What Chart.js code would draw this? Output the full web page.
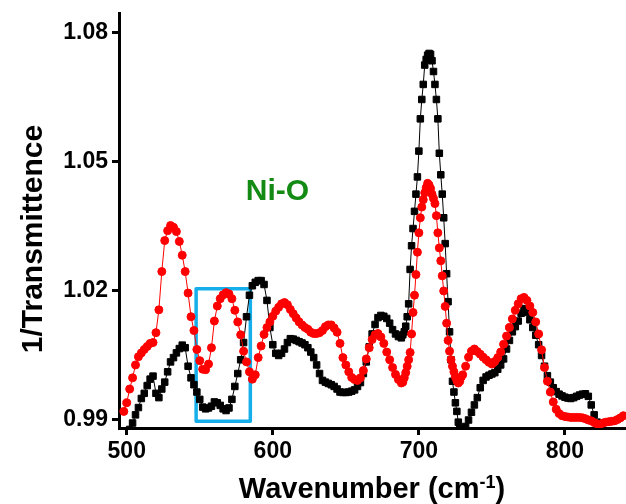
<!DOCTYPE html>
<html>
<head>
<meta charset="utf-8">
<style>
  html, body { margin: 0; padding: 0; background: #fff; }
  #wrap { width: 626px; height: 504px; }
</style>
<script src="https://cdn.jsdelivr.net/npm/chart.js@4.4.1/dist/chart.umd.min.js"></script>
</head>
<body>
<div id="wrap"><canvas id="ftir" width="626" height="504"></canvas></div>
<script>
// wavenumber grid (cm-1), finer sampling across the 700 band
const wavenumbers = [
  496, 498, 500, 502, 504, 506, 508, 510, 512, 514, 516, 518, 520, 522, 524, 526, 528, 530, 532, 534,
  536, 538, 540, 542, 544, 546, 548, 550, 552, 554, 556, 558, 560, 562, 564, 566, 568, 570, 572, 574,
  576, 578, 580, 582, 584, 586, 588, 590, 592, 594, 596, 598, 600, 602, 604, 606, 608, 610, 612, 614,
  616, 618, 620, 622, 624, 626, 628, 630, 632, 634, 636, 638, 640, 642, 644, 646, 648, 650, 652, 654,
  656, 658, 660, 662, 664, 666, 668, 670, 672, 674, 676, 678, 680, 682, 684, 686, 688,
  689, 690, 691, 692, 693, 694, 695, 696, 697, 698, 699, 700, 701, 702, 703, 704, 705, 706, 707, 708,
  709, 710, 711, 712, 713, 714, 715, 716, 717, 718, 719, 720, 721, 722, 723, 724, 725, 726, 727, 728, 729,
  730, 732, 734, 736, 738, 740, 742, 744, 746, 748, 750, 752, 754, 756, 758, 760, 762, 764, 766, 768,
  770, 772, 774, 776, 778, 780, 782, 784, 786, 788, 790, 792, 794, 796, 798, 800, 802, 804, 806, 808,
  810, 812, 814, 816, 818, 820, 822, 824, 826, 828, 830, 832, 834, 836, 838, 840
];

// black trace (squares)
const traceBlack = [
  null, null, null, 0.9878, 0.9893, 0.9912, 0.9929, 0.9950, 0.9962, 0.9980, 0.9995, 1.0002, 0.9962, 0.9952, 0.9972, 0.9988, 1.0012, 1.0035, 1.0045, 1.0056,
  1.0066, 1.0074, 1.0068, 1.0025, 0.9998, 0.9982, 0.9965, 0.9948, 0.9930, 0.9926, 0.9928, 0.9932, 0.9942, 0.9940, 0.9934, 0.9926, 0.9922, 0.9928, 0.9948, 0.9978,
  1.0008, 1.0040, 1.0080, 1.0140, 1.0190, 1.0212, 1.0220, 1.0224, 1.0224, 1.0215, 1.0178, 1.0115, 1.0075, 1.0055, 1.0050, 1.0055, 1.0065, 1.0080, 1.0089, 1.0088,
  1.0085, 1.0082, 1.0079, 1.0075, 1.0068, 1.0058, 1.0045, 1.0028, 1.0008, 0.9992, 0.9988, 0.9985, 0.9982, 0.9978, 0.9972, 0.9965, 0.9964, 0.9964, 0.9965, 0.9967,
  0.9970, 0.9978, 0.9987, 1.0008, 1.0035, 1.0070, 1.0100, 1.0122, 1.0138, 1.0143, 1.0141, 1.0136, 1.0125, 1.0110, 1.0100, 1.0094, 1.0091,
  1.0098, 1.0105, 1.0118, 1.0140, 1.0170, 1.0250, 1.0305, 1.0345, 1.0385, 1.0425, 1.0465, 1.0525, 1.0600, 1.0645, 1.0680, 1.0725, 1.0738, 1.0748, 1.0752, 1.0750,
  1.0735, 1.0710, 1.0680, 1.0645, 1.0600, 1.0520, 1.0470, 1.0425, 1.0370, 1.0310, 1.0240, 1.0175, 1.0105, 1.0040, 0.9990, 0.9965, 0.9940, 0.9920, 0.9895, 0.9880, 0.9870,
  0.9872, 0.9885, 0.9900, 0.9918, 0.9935, 0.9952, 0.9975, 0.9992, 1.0000, 1.0004, 1.0007, 1.0010, 1.0018, 1.0028, 1.0042, 1.0065, 1.0085, 1.0105, 1.0117, 1.0130,
  1.0148, 1.0159, 1.0150, 1.0133, 1.0115, 1.0097, 1.0075, 1.0050, 1.0025, 1.0003, 0.9988, 0.9975, 0.9966, 0.9960, 0.9956, 0.9953, 0.9951, 0.9950, 0.9952, 0.9955,
  0.9958, 0.9960, 0.9961, 0.9955, 0.9935, 0.9912, 0.9895, 0.9875, 0.9860, null, null, null, null, null, null, null
];

// red trace (circles)
const traceRed = [
  null, 0.9920, 0.9940, 0.9972, 0.9998, 1.0028, 1.0047, 1.0056, 1.0064, 1.0071, 1.0078, 1.0080, 1.0103, 1.0156, 1.0245, 1.0317, 1.0340, 1.0352, 1.0348, 1.0338,
  1.0315, 1.0283, 1.0245, 1.0195, 1.0140, 1.0108, 1.0064, 1.0038, 1.0018, 1.0017, 1.0030, 1.0068, 1.0130, 1.0165, 1.0182, 1.0191, 1.0196, 1.0193, 1.0182, 1.0155,
  1.0128, 1.0098, 1.0060, 1.0035, 1.0012, 0.9995, 1.0005, 1.0045, 1.0072, 1.0099, 1.0115, 1.0128, 1.0141, 1.0153, 1.0162, 1.0170, 1.0173, 1.0168, 1.0157, 1.0147,
  1.0137, 1.0128, 1.0121, 1.0115, 1.0111, 1.0104, 1.0101, 1.0101, 1.0103, 1.0108, 1.0117, 1.0121, 1.0121, 1.0114, 1.0104, 1.0078, 1.0045, 1.0028, 1.0012, 0.9999,
  0.9994, 0.9992, 0.9998, 1.0015, 1.0042, 1.0068, 1.0087, 1.0098, 1.0101, 1.0093, 1.0078, 1.0058, 1.0040, 1.0022, 1.0006, 0.9994, 0.9986,
  0.9988, 0.9998, 1.0010, 1.0025, 1.0040, 1.0057, 1.0100, 1.0150, 1.0190, 1.0238, 1.0290, 1.0335, 1.0370, 1.0395, 1.0412, 1.0428, 1.0440, 1.0450, 1.0446, 1.0438,
  1.0425, 1.0415, 1.0403, 1.0375, 1.0335, 1.0300, 1.0270, 1.0235, 1.0200, 1.0164, 1.0125, 1.0085, 1.0060, 1.0040, 1.0025, 1.0012, 1.0000, 0.9991, 0.9986, 0.9990, 1.0000,
  1.0005, 1.0025, 1.0046, 1.0060, 1.0065, 1.0059, 1.0053, 1.0046, 1.0040, 1.0034, 1.0030, 1.0036, 1.0045, 1.0058, 1.0076, 1.0095, 1.0115, 1.0135, 1.0155, 1.0170,
  1.0182, 1.0185, 1.0178, 1.0165, 1.0150, 1.0128, 1.0100, 1.0063, 1.0022, 0.9990, 0.9965, 0.9942, 0.9925, 0.9915, 0.9910, 0.9908, 0.9907, 0.9906, 0.9906, 0.9906,
  0.9906, 0.9905, 0.9903, 0.9900, 0.9898, 0.9894, 0.9891, 0.9890, 0.9893, 0.9895, 0.9896, 0.9897, 0.9898, 0.9901, 0.9905, 0.9910
];

const xTicks = [500, 600, 700, 800];
const yTicks = [0.99, 1.02, 1.05, 1.08];

// highlighted Ni-O region and its label
const niOBox = { x0: 547.5, x1: 584.6, y0: 0.9897, y1: 1.0205 };
const niOLabel = { text: 'Ni-O', x: 581.5, y: 1.0412 };

const FONT = '"Liberation Sans", Arial, sans-serif';

function toPoints(values) {
  return wavenumbers.map((w, i) => ({ x: w, y: values[i] }));
}

const extras = {
  id: 'extras',
  beforeDatasetsDraw(chart) {
    const { ctx, scales: { x, y } } = chart;
    const l = x.getPixelForValue(niOBox.x0);
    const r = x.getPixelForValue(niOBox.x1);
    const t = y.getPixelForValue(niOBox.y1);
    const b = y.getPixelForValue(niOBox.y0);
    ctx.save();
    ctx.strokeStyle = '#14aeea';
    ctx.lineWidth = 3.5;
    ctx.lineJoin = 'round';
    ctx.strokeRect(l, t, r - l, b - t);
    ctx.restore();
  },
  afterDraw(chart) {
    const { ctx, scales: { x, y } } = chart;
    ctx.save();
    ctx.fillStyle = '#138a13';
    ctx.font = 'bold 30px ' + FONT;
    ctx.textAlign = 'left';
    ctx.textBaseline = 'alphabetic';
    ctx.fillText(niOLabel.text, x.getPixelForValue(niOLabel.x), y.getPixelForValue(niOLabel.y));

    // y axis title
    ctx.fillStyle = '#000';
    ctx.save();
    ctx.translate(42, 239);
    ctx.rotate(-Math.PI / 2);
    ctx.textAlign = 'center';
    ctx.font = 'bold 30px ' + FONT;
    ctx.fillText('1/Transmittence', 0, 0);
    ctx.restore();

    // x axis title with superscript
    const main = 'Wavenumber (cm';
    const sup = '-1';
    const tail = ')';
    ctx.font = 'bold 29px ' + FONT;
    const wMain = ctx.measureText(main).width;
    const wTail = ctx.measureText(tail).width;
    ctx.font = 'bold 18px ' + FONT;
    const wSup = ctx.measureText(sup).width;
    const total = wMain + wSup + wTail;
    let cx = 372 - total / 2;
    ctx.textAlign = 'left';
    ctx.font = 'bold 29px ' + FONT;
    ctx.fillText(main, cx, 498);
    cx += wMain;
    ctx.font = 'bold 18px ' + FONT;
    ctx.fillText(sup, cx, 488);
    cx += wSup;
    ctx.font = 'bold 29px ' + FONT;
    ctx.fillText(tail, cx, 498);
    ctx.restore();
  }
};

const tickFont = { family: FONT, size: 23, weight: 'bold' };

new Chart(document.getElementById('ftir'), {
  type: 'line',
  data: {
    datasets: [
      {
        data: toPoints(traceRed),
        order: 0,
        borderColor: '#ff0000',
        backgroundColor: '#ff0000',
        borderWidth: 1,
        pointStyle: 'circle',
        pointRadius: 4,
        pointBorderWidth: 1,
        pointBackgroundColor: '#ff0000',
        pointBorderColor: '#ff0000',
        tension: 0,
        clip: 0
      },
      {
        data: toPoints(traceBlack),
        order: 1,
        borderColor: '#000',
        backgroundColor: '#000',
        borderWidth: 1,
        pointStyle: 'rect',
        pointRadius: 4.6,
        pointBorderWidth: 1,
        pointBackgroundColor: '#000',
        pointBorderColor: '#000',
        tension: 0,
        clip: 0
      }
    ]
  },
  options: {
    responsive: false,
    animation: false,
    devicePixelRatio: 1,
    events: [],
    layout: { autoPadding: false, padding: { top: 13, right: 0, left: 0, bottom: 0 } },
    plugins: { legend: { display: false }, tooltip: { enabled: false } },
    scales: {
      x: {
        type: 'linear',
        min: 494.7,
        max: 841.8,
        afterBuildTicks: s => { s.ticks = xTicks.map(v => ({ value: v })); },
        afterFit: s => {
          s.height = 76;
          s.paddingLeft = 0;
          s.paddingRight = 0;
        },
        ticks: {
          font: tickFont,
          color: '#000',
          padding: 3,
          maxRotation: 0,
          autoSkip: false,
          callback: v => String(v)
        },
        grid: { drawOnChartArea: false, drawTicks: true, tickLength: 7, tickWidth: 3, tickColor: '#000' },
        border: { display: true, width: 3, color: '#000' }
      },
      y: {
        type: 'linear',
        min: 0.98814,
        max: 1.0846,
        afterBuildTicks: s => { s.ticks = yTicks.map(v => ({ value: v })); },
        afterFit: s => {
          s.width = 119;
          s.paddingTop = 0;
          s.paddingBottom = 0;
        },
        ticks: {
          font: tickFont,
          color: '#000',
          padding: 4,
          autoSkip: false,
          callback: v => Number(v).toFixed(2)
        },
        grid: { drawOnChartArea: false, drawTicks: true, tickLength: 7, tickWidth: 3, tickColor: '#000' },
        border: { display: true, width: 3, color: '#000' }
      }
    }
  },
  plugins: [extras]
});
</script>
</body>
</html>
